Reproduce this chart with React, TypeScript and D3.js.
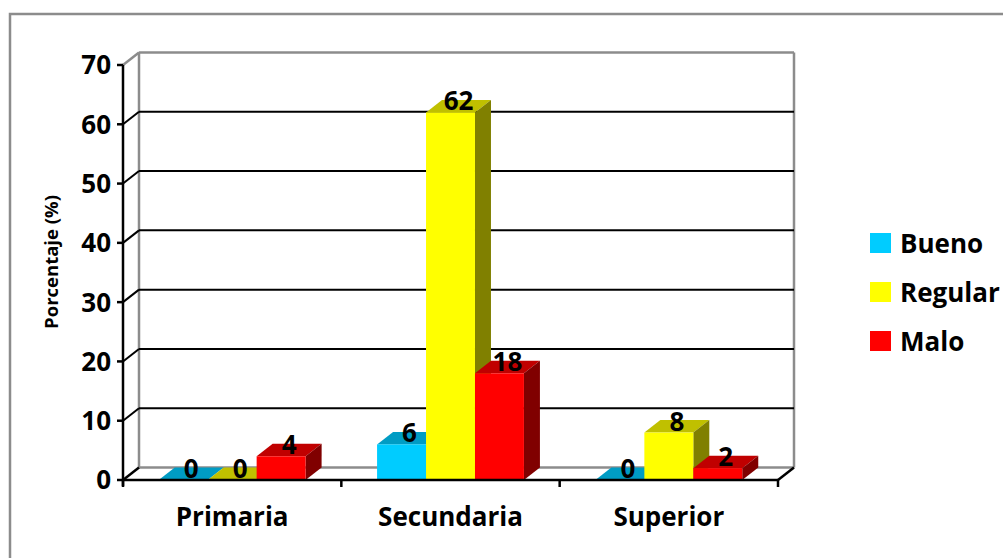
import * as d3 from "d3";

const CATEGORIES = ["Primaria", "Secundaria", "Superior"];
const SERIES = ["Bueno", "Regular", "Malo"];
const BUENO = [0, 6, 0];
const REGULAR = [0, 62, 8];
const MALO = [4, 18, 2];
const Y_TICKS = [0, 10, 20, 30, 40, 50, 60, 70];

const FRONT = ["#00CCFF", "#FFFF00", "#FF0000"];
const TOP = ["#009CC4", "#C0C000", "#C00000"];
const SIDE = ["#007A99", "#808000", "#800000"];

const FONT = "'Open Sans', Lato, sans-serif";
const DX = 16;
const DY = 12.5;

export default function App() {
  const values = [BUENO, REGULAR, MALO];
  const left = 123;
  const right = 778;

  const y = d3.scaleLinear().domain([0, 70]).range([480, 65]);
  const x0 = d3.scaleBand<string>().domain(CATEGORIES).range([left, right]);
  const x1 = d3
    .scaleBand<string>()
    .domain(SERIES)
    .range([0, x0.bandwidth()])
    .paddingInner(0)
    .paddingOuter(0.73);

  const base = y(0);
  const bw = x1.bandwidth();

  const bars: { key: string; x: number; top: number; s: number; v: number }[] = [];
  CATEGORIES.forEach((c, ci) => {
    SERIES.forEach((s, si) => {
      const v = values[si][ci];
      bars.push({ key: c + s, x: x0(c)! + x1(s)!, top: y(v), s: si, v });
    });
  });

  return (
    <svg
      width={1003}
      height={558}
      style={{ position: "absolute", left: 0, top: 0, background: "#fff" }}
    >
      <rect x={10} y={14} width={1010} height={600} fill="#fff" stroke="#8c8c8c" strokeWidth={2.5} />

      {/* back wall & floor */}
      <g stroke="#8c8c8c" strokeWidth={2.5} fill="none">
        <line x1={left + DX} y1={y(70) - DY} x2={right + DX} y2={y(70) - DY} />
        <line x1={left + DX} y1={y(70) - DY} x2={left + DX} y2={base - DY} />
        <line x1={right + DX} y1={y(70) - DY} x2={right + DX} y2={base - DY} />
        <line x1={left + DX} y1={base - DY} x2={right + DX} y2={base - DY} />
        <line x1={left} y1={y(70)} x2={left + DX} y2={y(70) - DY} />
      </g>

      {/* gridlines */}
      <g stroke="#000" strokeWidth={2}>
        {Y_TICKS.filter((t) => t > 0 && t < 70).map((t) => (
          <g key={t}>
            <line x1={left + DX} y1={y(t) - DY} x2={right + DX} y2={y(t) - DY} />
            <line x1={left} y1={y(t)} x2={left + DX} y2={y(t) - DY} />
          </g>
        ))}
      </g>

      {/* bars */}
      {bars.map((b) => (
        <g key={b.key}>
          <polygon
            points={`${b.x},${b.top} ${b.x + bw},${b.top} ${b.x + bw + DX},${b.top - DY} ${b.x + DX},${b.top - DY}`}
            fill={TOP[b.s]}
          />
          {b.v > 0 && (
            <>
              <polygon
                points={`${b.x + bw},${b.top} ${b.x + bw + DX},${b.top - DY} ${b.x + bw + DX},${base - DY} ${b.x + bw},${base}`}
                fill={SIDE[b.s]}
              />
              <rect x={b.x} y={b.top} width={bw} height={base - b.top} fill={FRONT[b.s]} />
            </>
          )}
        </g>
      ))}

      {/* floor front edges & axis */}
      <g stroke="#000" strokeWidth={2.5}>
        <line x1={left} y1={base} x2={right} y2={base} />
        <line x1={left} y1={base} x2={left + DX} y2={base - DY} />
        <line x1={right} y1={base} x2={right + DX} y2={base - DY} />
        <line x1={left} y1={y(70)} x2={left} y2={base + 6} />
        {Y_TICKS.map((t) => (
          <line key={t} x1={left - 6} y1={y(t)} x2={left} y2={y(t)} />
        ))}
        {[...CATEGORIES.map((c) => x0(c)!), right].map((xx, i) => (
          <line key={i} x1={xx} y1={base} x2={xx} y2={base + 7} />
        ))}
      </g>

      {/* y tick labels */}
      <g fontFamily={FONT} fontWeight="bold" fontSize={26} fill="#000" textAnchor="end">
        {Y_TICKS.map((t) => (
          <text key={t} x={left - 12} y={y(t)} dy="0.36em">
            {t}
          </text>
        ))}
      </g>

      {/* category labels */}
      <g fontFamily={FONT} fontWeight="bold" fontSize={26} fill="#000" textAnchor="middle">
        {CATEGORIES.map((c) => (
          <text key={c} x={x0(c)! + x0.bandwidth() / 2} y={526}>
            {c}
          </text>
        ))}
      </g>

      {/* data labels */}
      <g fontFamily={FONT} fontWeight="bold" fontSize={26} fill="#000" textAnchor="middle">
        {bars.map((b) => (
          <text key={b.key} x={b.x + bw / 2 + DX / 2} y={b.top - 2}>
            {b.v}
          </text>
        ))}
      </g>

      {/* y axis title */}
      <text
        transform="translate(58,262) rotate(-90)"
        fontFamily={FONT}
        fontWeight="bold"
        fontSize={18.5}
        textAnchor="middle"
      >
        Porcentaje (%)
      </text>

      {/* legend */}
      <g fontFamily={FONT} fontWeight="bold" fontSize={26}>
        {SERIES.map((s, i) => (
          <g key={s} transform={`translate(870,${233 + i * 49})`}>
            <rect width={21} height={20} fill={FRONT[i]} />
            <text x={30} y={20}>
              {s}
            </text>
          </g>
        ))}
      </g>
    </svg>
  );
}
